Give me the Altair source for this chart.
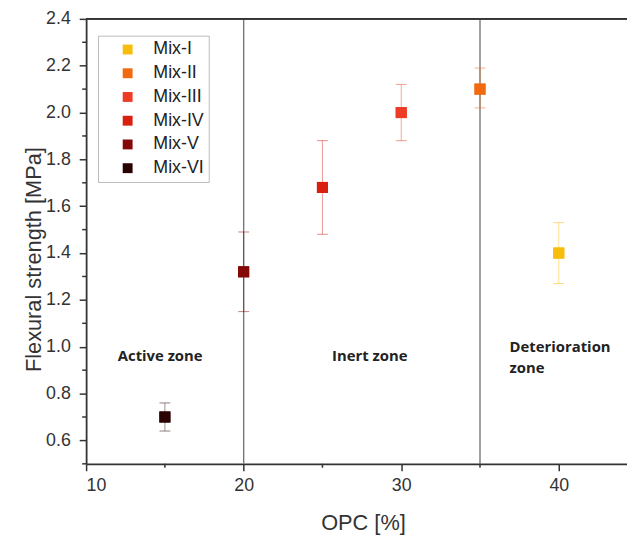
import altair as alt
import pandas as pd

mixes = ["Mix-I", "Mix-II", "Mix-III", "Mix-IV", "Mix-V", "Mix-VI"]
opc = [40, 35, 30, 25, 20, 15]
strength = [1.40, 2.10, 2.00, 1.68, 1.32, 0.70]
err_low = [1.27, 2.02, 1.88, 1.48, 1.15, 0.64]
err_high = [1.53, 2.19, 2.12, 1.88, 1.49, 0.76]
colors = ["#F7BC0C", "#F26A10", "#EE3C24", "#D9200F", "#850808", "#2A0202"]

x_major = [10, 20, 30, 40]
x_minor = [15, 25, 35]
y_major = [0.6, 0.8, 1.0, 1.2, 1.4, 1.6, 1.8, 2.0, 2.2, 2.4]
y_minor = [0.5, 0.7, 0.9, 1.1, 1.3, 1.5, 1.7, 1.9, 2.1, 2.3]

zone_lines = [20, 35]
center_text = ["Active zone", "Inert zone"]
center_x = [14.7, 28.0]
center_y = [0.96, 0.96]
left_text = ["Deterioration", "zone"]
left_x = [36.88, 36.88]
left_y = [1.0, 0.91]

df = pd.DataFrame({"mix": mixes, "opc": opc, "s": strength, "lo": err_low, "hi": err_high})
lines_df = pd.DataFrame({"x": zone_lines})
ctext_df = pd.DataFrame({"t": center_text, "x": center_x, "y": center_y})
ltext_df = pd.DataFrame({"t": left_text, "x": left_x, "y": left_y})
xminor_df = pd.DataFrame({"x": x_minor})
yminor_df = pd.DataFrame({"y": y_minor})

W, H = 547, 450
xscale = alt.Scale(domain=[10, 44.33], nice=False, zero=False)
yscale = alt.Scale(domain=[0.5, 2.4], nice=False, zero=False)
cscale = alt.Scale(domain=mixes, range=colors)

legend = alt.Legend(title=None, orient="none", legendX=12, legendY=17,
                    symbolType="square", symbolSize=100, symbolOpacity=1,
                    symbolOffset=16,
                    labelFontSize=18, labelFont="Liberation Sans",
                    labelColor="#222", rowPadding=6,
                    strokeColor="#bbb", fillColor="white",
                    padding=5, labelOffset=17, symbolStrokeWidth=0)

xaxis = alt.Axis(values=x_major, format="d", tickSize=7,
                 grid=False, title="OPC [%]", titleFontSize=22, titleFontWeight="normal",
                 titleFont="Liberation Sans", titleColor="#333", titlePadding=18,
                 titleX=280, titleAlign="center",
                 labelFontSize=18, labelFont="Liberation Sans", labelColor="#333",
                 domainColor="#333", domainWidth=1.8, tickColor="#333", tickWidth=1.5,
                 labelPadding=6)
yaxis = alt.Axis(values=y_major, format=".1f", tickSize=7, labelOverlap=False,
                 grid=False, title="Flexural strength [MPa]", titleFontSize=22,
                 titleFontWeight="normal", titleFont="Liberation Sans", titleColor="#333",
                 titlePadding=0, titleY=243, titleAlign="center",
                 labelFontSize=18, labelFont="Liberation Sans",
                 labelColor="#333", domainColor="#333", domainWidth=1.8,
                 tickColor="#333", tickWidth=1.5, labelPadding=9)

base = alt.Chart(df)

vlines = alt.Chart(lines_df).mark_rule(color="#777", strokeWidth=1.4).encode(
    x=alt.X("x:Q", scale=xscale))

top = alt.Chart(lines_df).mark_rule(color="#333", strokeWidth=1.8).encode(
    x=alt.value(0), x2=alt.value(W), y=alt.value(0))

xminor = alt.Chart(xminor_df).mark_rule(color="#333", strokeWidth=1.5).encode(
    x=alt.X("x:Q", scale=xscale), y=alt.value(H), y2=alt.value(H + 4))
yminor = alt.Chart(yminor_df).mark_rule(color="#333", strokeWidth=1.5).encode(
    y=alt.Y("y:Q", scale=yscale), x=alt.value(-4), x2=alt.value(0))

bars = base.mark_rule(strokeWidth=1, strokeOpacity=0.45).encode(
    x=alt.X("opc:Q", scale=xscale),
    y=alt.Y("lo:Q", scale=yscale), y2="hi:Q",
    stroke=alt.Stroke("mix:N", scale=cscale, legend=None))

cap_lo = base.mark_tick(thickness=1, size=11, opacity=0.5, orient="horizontal").encode(
    x=alt.X("opc:Q", scale=xscale), y=alt.Y("lo:Q", scale=yscale),
    fill=alt.Fill("mix:N", scale=cscale, legend=None))
cap_hi = base.mark_tick(thickness=1, size=11, opacity=0.5, orient="horizontal").encode(
    x=alt.X("opc:Q", scale=xscale), y=alt.Y("hi:Q", scale=yscale),
    fill=alt.Fill("mix:N", scale=cscale, legend=None))

pts = base.mark_square(size=125, opacity=1).encode(
    x=alt.X("opc:Q", scale=xscale, axis=xaxis),
    y=alt.Y("s:Q", scale=yscale, axis=yaxis),
    color=alt.Color("mix:N", scale=cscale, sort=mixes, legend=legend))

ctexts = alt.Chart(ctext_df).mark_text(font="Open Sans", fontWeight="bold", fontSize=15,
                                       color="#222", baseline="middle", align="center").encode(
    x=alt.X("x:Q", scale=xscale), y=alt.Y("y:Q", scale=yscale), text="t:N")
ltexts = alt.Chart(ltext_df).mark_text(font="Open Sans", fontWeight="bold", fontSize=15,
                                       color="#222", baseline="middle", align="left").encode(
    x=alt.X("x:Q", scale=xscale), y=alt.Y("y:Q", scale=yscale), text="t:N")

chart = alt.layer(pts, vlines, top, xminor, yminor, bars, cap_lo, cap_hi, ctexts, ltexts,
                  pts.encode()).properties(
    width=W, height=H,
    background="white",
    autosize=alt.AutoSizeParams(type="none"),
    padding={"left": 79, "top": 8, "right": 0, "bottom": 70},
).configure_view(stroke=None)

chart.save("out.html", embed_options={"renderer": "svg", "actions": False})
